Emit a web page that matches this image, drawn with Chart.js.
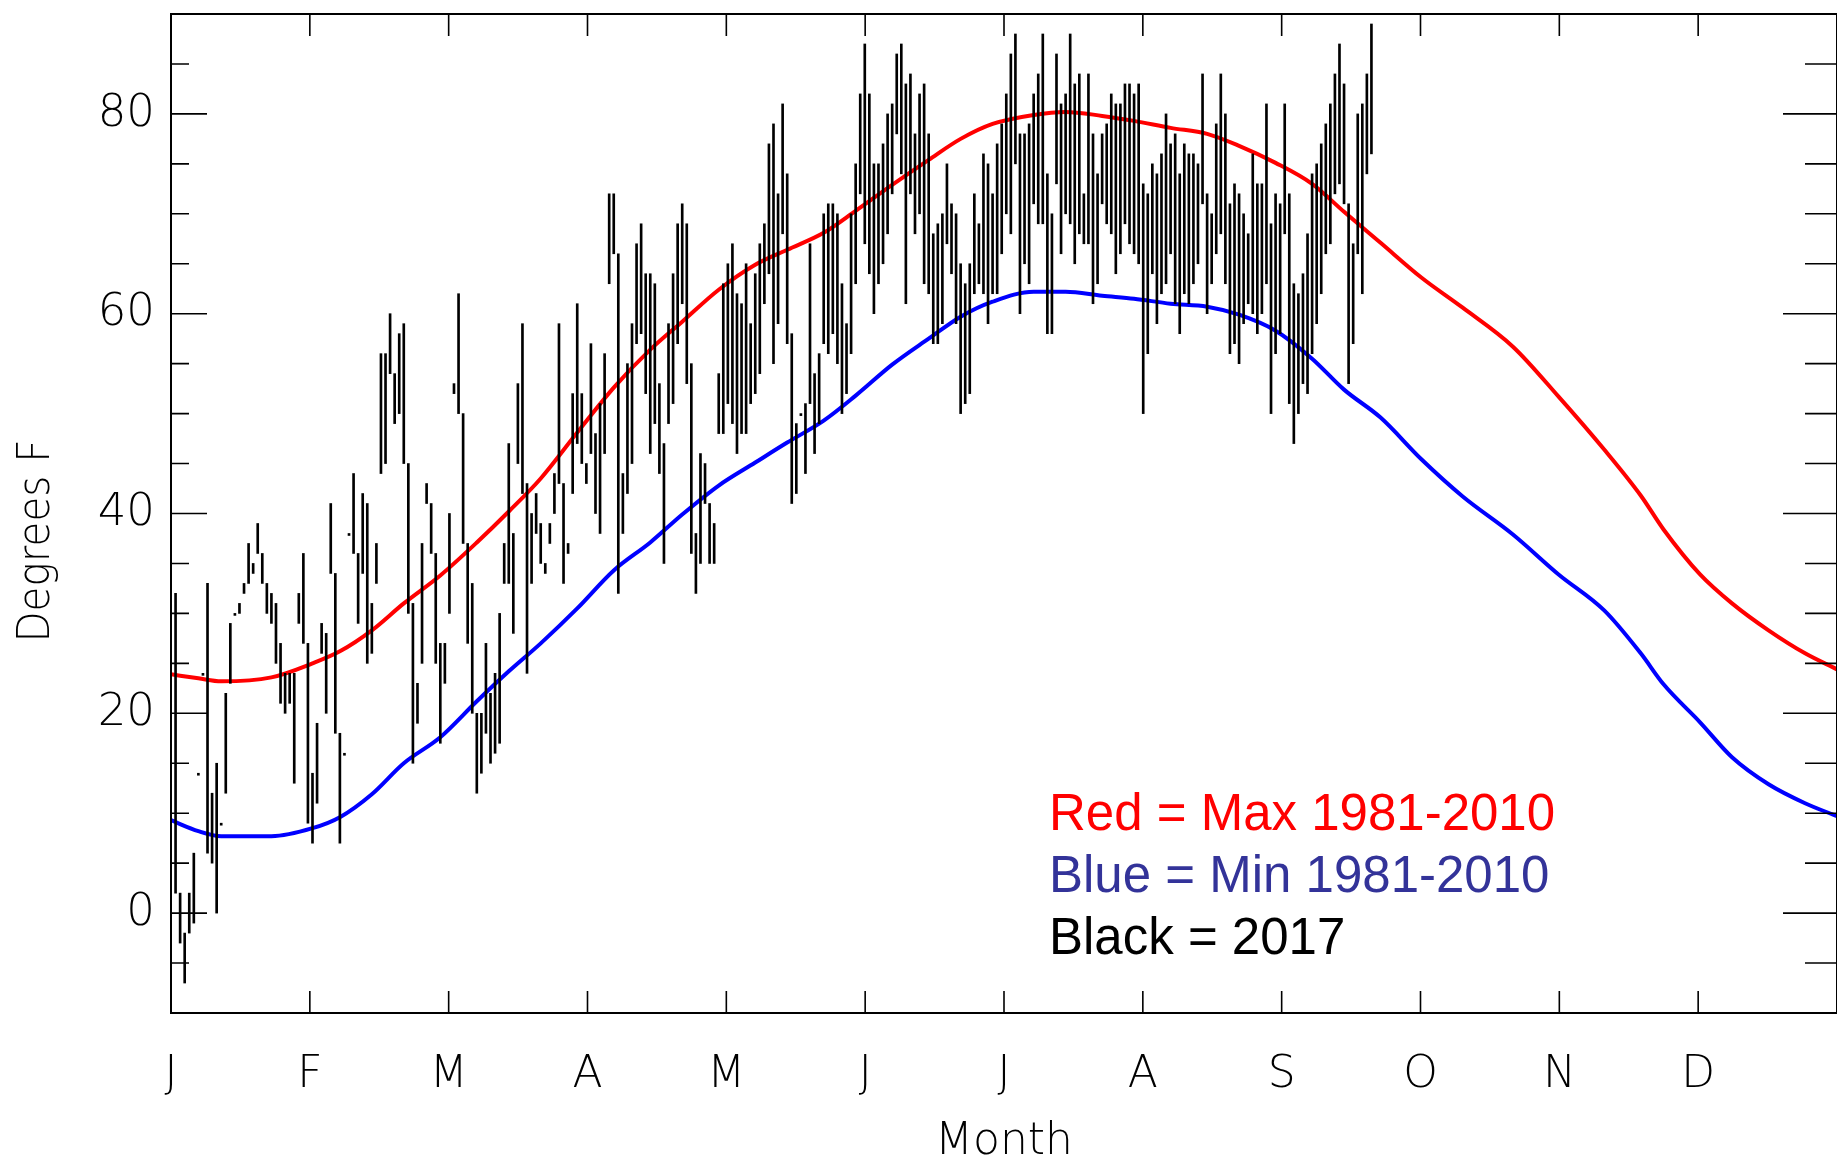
<!DOCTYPE html>
<html>
<head>
<meta charset="utf-8">
<title>Daily temperatures 2017 vs 1981-2010 normals</title>
<script src="https://cdn.jsdelivr.net/npm/chart.js@4.4.1/dist/chart.umd.min.js"></script>
<style>
  html, body { margin: 0; padding: 0; background: #fff; overflow: hidden; }
  #wrap { width: 1837px; height: 1162px; position: relative; }
</style>
</head>
<body>
<div id="wrap"><canvas id="chart" width="1837" height="1162"></canvas></div>
<script>
// Month initials along the bottom axis
const monthLetters = ['J', 'F', 'M', 'A', 'M', 'J', 'J', 'A', 'S', 'O', 'N', 'D'];
// Labelled temperature ticks (degrees F)
const yLabelValues = [0, 20, 40, 60, 80];

// 2017 daily high / low (degrees F), one entry per day, month by month
const hiJan = [32, 2, -2, 2, 6, 14, 24, 33, 12, 15, 9, 22, 29, 30, 31, 33, 37, 35, 39, 36, 33, 32, 31, 27, 24, 24, 24, 32, 36, 27, 14];
const loJan = [2, -3, -7, -2, -1, 14, 24, 6, 5, 0, 9, 12, 23, 30, 30, 32, 33, 34, 36, 33, 30, 29, 25, 21, 20, 21, 13, 29, 27, 9, 7];
const hiFeb = [19, 29, 28, 41, 34, 18, 16, 38, 44, 36, 42, 41, 31, 37, 56, 56, 60, 54, 58, 59, 45, 31, 23, 37, 43, 41, 36, 27];
const loFeb = [11, 26, 20, 34, 18, 7, 16, 38, 36, 29, 34, 25, 26, 33, 44, 45, 54, 49, 50, 45, 30, 15, 19, 25, 41, 36, 25, 17];
const hiMar = [27, 40, 53, 62, 50, 37, 33, 20, 20, 27, 22, 24, 30, 37, 47, 38, 53, 59, 43, 40, 42, 39, 35, 39, 44, 59, 43, 37, 52, 61, 52];
const loMar = [23, 30, 52, 50, 37, 27, 20, 12, 14, 18, 15, 16, 17, 33, 33, 28, 45, 42, 24, 33, 38, 35, 34, 37, 40, 43, 33, 36, 42, 47, 45];
const hiApr = [45, 57, 48, 51, 56, 72, 72, 66, 44, 55, 59, 67, 69, 64, 64, 63, 53, 47, 59, 64, 69, 71, 69, 55, 38, 46, 45, 41, 39, 54];
const loApr = [43, 46, 40, 38, 46, 63, 66, 32, 38, 42, 45, 57, 58, 52, 46, 49, 44, 35, 49, 51, 57, 61, 53, 36, 32, 35, 41, 35, 35, 48];
const hiMay = [63, 65, 67, 62, 61, 65, 59, 64, 67, 69, 77, 79, 72, 81, 74, 58, 49, 50, 51, 67, 54, 56, 70, 71, 71, 70, 63, 59, 70, 75, 82];
const loMay = [48, 51, 49, 46, 48, 48, 51, 52, 54, 61, 64, 55, 59, 68, 57, 41, 42, 50, 44, 51, 46, 49, 57, 56, 58, 55, 50, 52, 56, 63, 72];
const hiJun = [87, 82, 75, 75, 77, 80, 81, 86, 87, 83, 84, 78, 82, 83, 78, 68, 69, 70, 75, 71, 70, 65, 63, 65, 72, 69, 76, 75, 72, 77];
const loJun = [67, 64, 60, 63, 65, 68, 72, 78, 74, 61, 72, 68, 70, 63, 62, 57, 57, 59, 67, 64, 59, 50, 51, 52, 62, 63, 62, 59, 62, 62];
const hiJul = [79, 82, 86, 88, 78, 78, 79, 82, 84, 88, 74, 70, 86, 81, 82, 88, 83, 84, 72, 84, 78, 74, 78, 79, 82, 81, 81, 83, 83, 82, 83];
const loJul = [66, 70, 68, 75, 60, 65, 63, 71, 69, 69, 58, 58, 73, 66, 70, 69, 65, 68, 67, 67, 61, 63, 71, 69, 68, 64, 66, 69, 67, 66, 65];
const hiAug = [73, 72, 75, 74, 76, 80, 77, 78, 74, 77, 76, 76, 75, 84, 72, 70, 79, 84, 80, 71, 73, 72, 70, 68, 76, 73, 73, 81, 69, 72, 71];
const loAug = [50, 56, 64, 59, 62, 63, 66, 61, 58, 62, 61, 63, 65, 71, 60, 63, 66, 68, 63, 56, 57, 55, 59, 61, 60, 58, 60, 63, 50, 56, 58];
const hiSep = [81, 72, 63, 62, 64, 68, 74, 75, 77, 79, 81, 84, 87, 83, 71, 67, 80, 81, 84, 89];
const loSep = [68, 51, 47, 50, 53, 52, 56, 59, 62, 66, 67, 72, 73, 71, 53, 57, 66, 62, 74, 76];

// 1981-2010 normals, sampled by day of year
const normalDays = [0, 6, 11, 22, 31, 37, 44, 51, 59, 67, 74, 81, 89, 97, 105, 112, 120, 128, 135, 143, 150, 158, 166, 173, 180,
  189, 196, 204, 211, 219, 227, 234, 242, 250, 257, 265, 274, 283, 294, 304, 314, 322, 327, 335, 342, 350, 358, 365];
const normalMax = [23.9, 23.5, 23.2, 23.6, 25.0, 26.2, 28.3, 31.0, 33.8, 37.1, 40.2, 43.5, 48.1, 52.6, 56.4, 59.2, 62.4, 64.9, 66.4, 68.1, 70.3, 72.9, 75.4, 77.5, 79.0,
  79.9, 80.2, 79.8, 79.3, 78.6, 78.0, 76.8, 75.1, 73.0, 70.2, 67.1, 63.6, 60.6, 56.7, 51.7, 46.4, 41.8, 38.4, 33.9, 31.0, 28.3, 26.0, 24.4];
const normalMin = [9.3, 8.2, 7.7, 7.7, 8.5, 9.6, 11.9, 15.0, 17.6, 21.2, 24.2, 27.0, 30.5, 34.3, 37.1, 39.9, 42.8, 45.1, 47.1, 49.3, 51.8, 54.9, 57.5, 59.7, 61.2,
  62.2, 62.2, 61.8, 61.5, 61.0, 60.7, 59.9, 58.3, 55.5, 52.4, 49.6, 45.4, 41.7, 37.9, 33.9, 30.3, 26.0, 22.9, 19.1, 15.6, 12.9, 11.0, 9.7];

const dailyHigh = [].concat(hiJan, hiFeb, hiMar, hiApr, hiMay, hiJun, hiJul, hiAug, hiSep);
const dailyLow = [].concat(loJan, loFeb, loMar, loApr, loMay, loJun, loJul, loAug, loSep);

const YEAR_DAYS = 365;
const barData = dailyHigh.map((h, i) => ({ x: i + 1, y: [dailyLow[i], h] }));
const maxLine = normalDays.map((d, i) => ({ x: d, y: normalMax[i] }));
const minLine = normalDays.map((d, i) => ({ x: d, y: normalMin[i] }));

const axisFont = { family: 'DejaVu Sans', size: 44, weight: '200' };

// Box, inward tick marks, axis titles and the colour key
const framePlugin = {
  id: 'frame',
  afterDraw(chart) {
    const { ctx, chartArea: a, scales: { x, y } } = chart;
    ctx.save();
    ctx.strokeStyle = '#000';
    ctx.lineWidth = 2;
    ctx.strokeRect(a.left, a.top, a.right - a.left, a.bottom - a.top);

    ctx.lineWidth = 1.6;
    ctx.beginPath();
    for (let v = y.min; v <= y.max; v += 5) {
      const py = y.getPixelForValue(v);
      const major = v % 20 === 0;
      ctx.moveTo(a.left, py); ctx.lineTo(a.left + (major ? 36 : 18), py);
      ctx.moveTo(a.right, py); ctx.lineTo(a.right - (major ? 54 : 32), py);
    }
    for (let i = 1; i < 12; i++) {
      const px = x.getPixelForValue(i * YEAR_DAYS / 12);
      ctx.moveTo(px, a.bottom); ctx.lineTo(px, a.bottom - 22);
      ctx.moveTo(px, a.top); ctx.lineTo(px, a.top + 22);
    }
    ctx.stroke();

    ctx.fillStyle = '#000';
    ctx.font = `${axisFont.weight} ${axisFont.size}px "${axisFont.family}"`;
    ctx.textAlign = 'center';
    ctx.textBaseline = 'alphabetic';
    ctx.fillText('Month', (a.left + a.right) / 2, 1154);

    ctx.save();
    ctx.translate(49, 541);
    ctx.rotate(-Math.PI / 2);
    ctx.scale(0.92, 1);
    ctx.fillText('Degrees F', 0, 0);
    ctx.restore();

    ctx.textAlign = 'left';
    ctx.font = '51px "Liberation Sans", Arial, sans-serif';
    ctx.fillStyle = '#ff0000';
    ctx.fillText('Red = Max 1981-2010', 1049, 830);
    ctx.fillStyle = '#333399';
    ctx.fillText('Blue = Min 1981-2010', 1049, 892);
    ctx.fillStyle = '#000000';
    ctx.fillText('Black = 2017', 1049, 954);
    ctx.restore();
  }
};

new Chart(document.getElementById('chart'), {
  type: 'bar',
  data: {
    datasets: [
      {
        type: 'bar',
        label: '2017',
        data: barData,
        backgroundColor: '#000',
        borderWidth: 0,
        barThickness: 2,
        minBarLength: 2,
        order: 0
      },
      {
        type: 'line',
        label: 'Max 1981-2010',
        data: maxLine,
        borderColor: '#ff0000',
        borderWidth: 4,
        pointRadius: 0,
        cubicInterpolationMode: 'monotone',
        order: 1
      },
      {
        type: 'line',
        label: 'Min 1981-2010',
        data: minLine,
        borderColor: '#0000ff',
        borderWidth: 4,
        pointRadius: 0,
        cubicInterpolationMode: 'monotone',
        order: 2
      }
    ]
  },
  options: {
    responsive: false,
    animation: false,
    devicePixelRatio: 1,
    layout: { padding: { top: 14, right: 0, bottom: 0, left: 0 } },
    plugins: { legend: { display: false }, tooltip: { enabled: false } },
    scales: {
      x: {
        type: 'linear',
        min: 0,
        max: YEAR_DAYS,
        offset: false,
        grid: { display: false, drawTicks: false },
        border: { display: false },
        afterBuildTicks: s => { s.ticks = monthLetters.map((_, i) => ({ value: i * YEAR_DAYS / 12 })); },
        afterFit: s => { s.height = 149; s.paddingLeft = 0; s.paddingRight = 0; },
        ticks: {
          autoSkip: false,
          maxRotation: 0,
          minRotation: 0,
          padding: 36,
          color: '#000',
          font: axisFont,
          callback: (v, i) => monthLetters[i]
        }
      },
      y: {
        min: -10,
        max: 90,
        grid: { display: false, drawTicks: false },
        border: { display: false },
        afterBuildTicks: s => { s.ticks = yLabelValues.map(v => ({ value: v })); },
        afterFit: s => { s.width = 171; s.paddingTop = 0; s.paddingBottom = 0; },
        ticks: {
          padding: 16,
          color: '#000',
          font: { family: 'DejaVu Sans', size: 45, weight: '200' }
        }
      }
    }
  },
  plugins: [framePlugin]
});
</script>
</body>
</html>
